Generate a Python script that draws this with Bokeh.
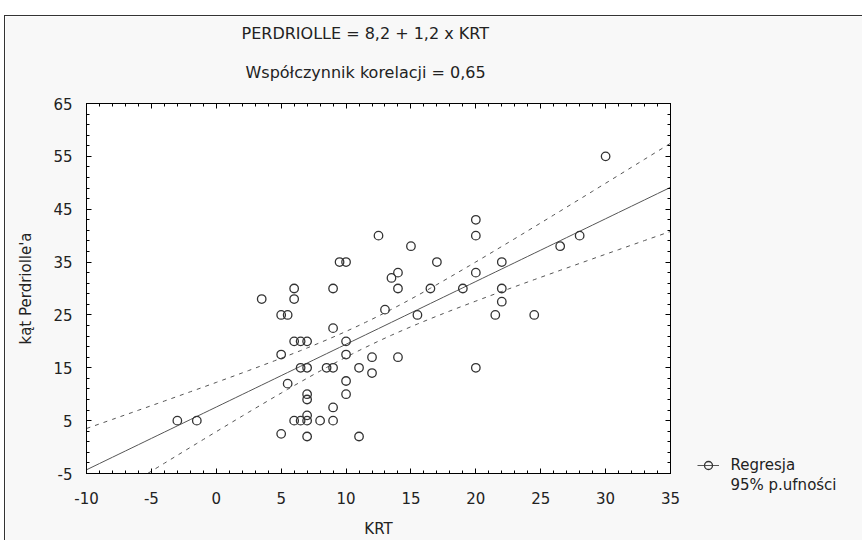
import numpy as np
from bokeh.plotting import figure
from bokeh.models import Range1d, LinearAxis, FixedTicker, Title, Legend, LegendItem
from bokeh.embed import file_html
from bokeh.resources import INLINE

# ---- data ----
krt = [30, 20, 20, 12.5, 15, 26.5, 28, 17, 22, 9.5, 10, 20, 14, 13.5, 14, 16.5, 19, 22,
       9, 6, 6, 3.5, 22, 13, 15.5, 21.5, 24.5, 5, 5.5, 9, 6, 6.5, 7, 10, 5, 10, 12, 14,
       6.5, 7, 8.5, 9, 11, 20, 12, 5.5, 10, 10, 7, 7, 9, 6, 6.5, 7, 7, 8, 9, -3, -1.5,
       5, 7, 11]
perdriolle = [55, 43, 40, 40, 38, 38, 40, 35, 35, 35, 35, 33, 33, 32, 30, 30, 30, 30,
              30, 30, 28, 28, 27.5, 26, 25, 25, 25, 25, 25, 22.5, 20, 20, 20, 20, 17.5, 17.5, 17, 17,
              15, 15, 15, 15, 15, 15, 14, 12, 12.5, 10, 10, 9, 7.5, 5, 5, 5, 6, 5, 5, 5, 5,
              2.5, 2, 2]
x_ticks = [-10, -5, 0, 5, 10, 15, 20, 25, 30, 35]
y_ticks = [-5, 5, 15, 25, 35, 45, 55, 65]
x_minor = list(range(-10, 36))
y_minor = list(range(-5, 66, 2))
title_text = "PERDRIOLLE = 8,2 + 1,2 x KRT"
subtitle_text = "Współczynnik korelacji = 0,65"
x_label = "KRT"
y_label = "kąt Perdriolle'a"
legend_labels = ["Regresja", "95% p.ufności"]
t_value = 2.0  # Student t, 95 %, n-2 df

# ---- regression computed from the data ----
x = np.array(krt, float)
y = np.array(perdriolle, float)
n = len(x)
slope, intercept = np.polyfit(x, y, 1)
xs = np.linspace(x_ticks[0], x_ticks[-1], 91)
fit = intercept + slope * xs
resid = y - (intercept + slope * x)
s = np.sqrt(np.sum(resid ** 2) / (n - 2))
sxx = np.sum((x - x.mean()) ** 2)
half = t_value * s * np.sqrt(1.0 / n + (xs - x.mean()) ** 2 / sxx)

FONT = "DejaVu Sans"
INK = "#222222"
LINE = "#555555"

p = figure(frame_width=584, frame_height=370, output_backend="svg", toolbar_location=None,
           x_range=Range1d(x_ticks[0], x_ticks[-1]), y_range=Range1d(y_ticks[0], y_ticks[-1]),
           x_axis_type=None, y_axis_type=None,
           min_border_left=81, min_border_top=87, min_border_right=180, min_border_bottom=66)
p.margin = (15, 0, 0, 4)
p.styles = {"border-top": "1px solid #333", "border-left": "1px solid #333"}
p.background_fill_color = "white"
p.border_fill_color = "#f8f8f8"
p.outline_line_color = "black"
p.outline_line_width = 1

xt = FixedTicker(ticks=x_ticks, minor_ticks=x_minor)
yt = FixedTicker(ticks=y_ticks, minor_ticks=y_minor)


def style_axis(ax, ticks, labels=True):
    ax.major_tick_in = 5
    ax.major_tick_out = 0
    ax.minor_tick_in = 3
    ax.minor_tick_out = 0
    ax.axis_line_color = "black"
    ax.major_tick_line_color = "black"
    ax.minor_tick_line_color = "black"
    ax.major_label_text_font = FONT
    ax.major_label_text_color = INK
    ax.major_label_text_font_size = "15px"
    ax.major_label_overrides = {t: (str(t) if labels else "") for t in ticks}
    ax.axis_label_text_font = FONT
    ax.axis_label_text_font_style = "normal"
    ax.axis_label_text_font_size = "15px"
    ax.axis_label_text_color = INK


xb = LinearAxis(ticker=xt, axis_label=x_label)
style_axis(xb, x_ticks)
xb.major_label_standoff = 18
xb.axis_label_standoff = 13
p.add_layout(xb, "below")

yl = LinearAxis(ticker=yt, axis_label=y_label)
style_axis(yl, y_ticks)
yl.major_label_standoff = 14
yl.axis_label_standoff = 15
p.add_layout(yl, "left")

xa = LinearAxis(ticker=xt)
style_axis(xa, x_ticks, labels=False)
xa.major_label_standoff = 0
p.add_layout(xa, "above")
yr = LinearAxis(ticker=yt)
style_axis(yr, y_ticks, labels=False)
yr.major_label_standoff = 0
p.add_layout(yr, "right")

p.xgrid.ticker = xt
p.ygrid.ticker = yt
for g in (p.xgrid, p.ygrid):
    g.grid_line_color = "#9a9a9a"
    g.grid_line_dash = "1 3"
    g.grid_line_width = 1

# CI bands
up = p.line(xs, fit + half, line_color=LINE, line_width=1, line_dash="4 5")
lo = p.line(xs, fit - half, line_color=LINE, line_width=1, line_dash="4 5")
# regression line
reg = p.line(xs, fit, line_color=LINE, line_width=1)
# points
pts = p.scatter(krt, perdriolle, marker="circle", size=8.5, fill_color=None,
                line_color="#333333", line_width=1.3)

dummy = p.line([], [], line_alpha=0)
legend = Legend(items=[LegendItem(label=legend_labels[0], renderers=[reg, pts]),
                       LegendItem(label=legend_labels[1], renderers=[dummy])],
                location=(-212, -22), margin=0, padding=0, spacing=0,
                glyph_width=22, glyph_height=20, label_height=20, label_standoff=11,
                label_text_font=FONT, label_text_font_size="15px", label_text_color=INK,
                border_line_color=None, background_fill_alpha=0)
p.add_layout(legend, "right")

# titles (stacked above the plot: first added is nearest the plot)
p.add_layout(Title(text=subtitle_text, align="left", offset=159, standoff=44,
                   text_font=FONT, text_font_size="16px", text_font_style="normal",
                   text_color=INK), "above")
p.add_layout(Title(text=title_text, align="left", offset=155, standoff=-8,
                   text_font=FONT, text_font_size="16px", text_font_style="normal",
                   text_color=INK), "above")

open("out.html", "w").write(file_html(p, INLINE))
